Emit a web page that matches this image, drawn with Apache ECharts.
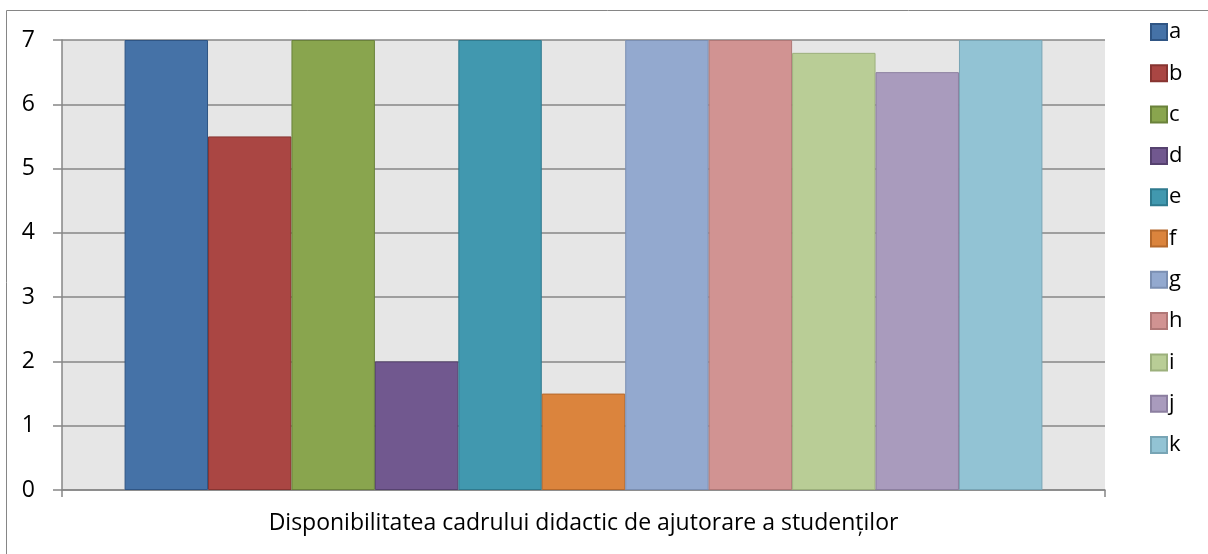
<!DOCTYPE html>
<html>
<head>
<meta charset="utf-8">
<script src="https://cdn.jsdelivr.net/npm/echarts@6/dist/echarts.min.js"></script>
<style>
  html, body { margin: 0; padding: 0; background: #fff; }
  #chart { width: 1208px; height: 554px; }
</style>
</head>
<body>
<div id="chart"></div>
<script>
// one category, eleven answers (a..k)
const category = ['Disponibilitatea cadrului didactic de ajutorare a studenților'];
const seriesNames = ['a', 'b', 'c', 'd', 'e', 'f', 'g', 'h', 'i', 'j', 'k'];
const values = [7, 5.5, 7, 2, 7, 1.5, 7, 7, 6.8, 6.5, 7];
const fills = ['#4572A7', '#AA4643', '#89A54E', '#71588F', '#4198AF', '#DB843D',
               '#93A9CF', '#D19392', '#B9CD96', '#A99BBD', '#92C3D4'];
const borders = ['#2f5584', '#873431', '#6a823b', '#56426f', '#2f7a8e', '#b5692c',
                 '#7b8fb2', '#b07877', '#9cb07c', '#8c7fa0', '#78a5b5'];
const yTicks = [0, 1, 2, 3, 4, 5, 6, 7];

const FONT = 'Open Sans';
const GRID_GRAY = '#868686';

const chart = echarts.init(document.getElementById('chart'));
chart.setOption({
  backgroundColor: '#fff',
  animation: false,
  textStyle: { fontFamily: FONT },
  graphic: [{
    type: 'rect',
    shape: { x: 6.5, y: 10.5, width: 1400, height: 800 },
    style: { fill: 'none', stroke: GRID_GRAY, lineWidth: 1 },
    silent: true, z: -1
  }],
  grid: {
    left: 62, right: 103, top: 40, bottom: 64,
    show: true, backgroundColor: '#e6e6e6', borderWidth: 0
  },
  legend: {
    orient: 'vertical', left: 1150, top: 21, padding: 0,
    icon: 'rect', itemWidth: 16, itemHeight: 16, itemGap: 19.3,
    textStyle: { fontSize: 22, color: '#000', padding: [0, 0, 0, -3] },
    data: seriesNames
  },
  xAxis: {
    type: 'category', data: category,
    axisLine: { lineStyle: { color: GRID_GRAY, width: 1.5 } },
    axisTick: { show: true, length: 7, lineStyle: { color: GRID_GRAY, width: 1.5 } },
    axisLabel: { color: '#000', fontSize: 23, margin: 22 }
  },
  yAxis: {
    type: 'value', min: yTicks[0], max: yTicks[yTicks.length - 1], interval: 1,
    axisLine: { show: true, lineStyle: { color: GRID_GRAY, width: 1.5 } },
    axisTick: { show: true, length: 9, lineStyle: { color: GRID_GRAY, width: 1.5 } },
    splitLine: { lineStyle: { color: GRID_GRAY, width: 1.5 } },
    axisLabel: { color: '#000', fontSize: 23, margin: 27 }
  },
  series: seriesNames.map((name, i) => ({
    name, type: 'bar',
    data: [values[i]],
    barGap: '0%', barCategoryGap: '12%',
    itemStyle: { color: fills[i], borderColor: borders[i], borderWidth: 1 }
  }))
});
</script>
</body>
</html>
